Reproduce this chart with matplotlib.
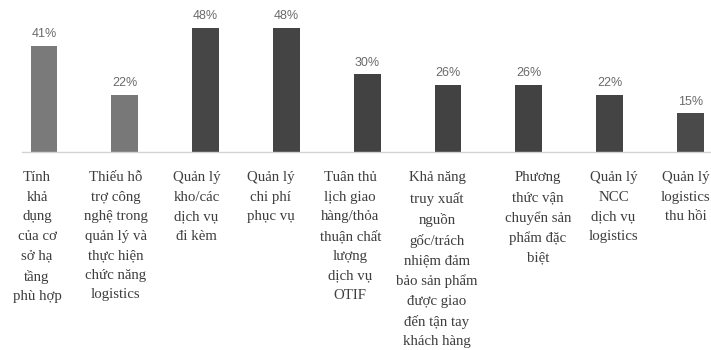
import matplotlib
matplotlib.use('Agg')
import matplotlib.pyplot as plt
import matplotlib.transforms as mtransforms
import numpy as np

categories = [
    'Tính\nkhả\ndụng\ncủa cơ\nsở hạ\ntầng\nphù hợp',
    'Thiếu hỗ\ntrợ công\nnghệ trong\nquản lý và\nthực hiện\nchức năng\nlogistics',
    'Quản lý\nkho/các\ndịch vụ\nđi kèm',
    'Quản lý\nchi phí\nphục vụ',
    'Tuân thủ\nlịch giao\nhàng/thỏa\nthuận chất\nlượng\ndịch vụ\nOTIF',
    'Khả năng\ntruy xuất\nnguồn\ngốc/trách\nnhiệm đảm\nbảo sản phẩm\nđược giao\nđến tận tay\nkhách hàng',
    'Phương\nthức vận\nchuyển sản\nphẩm đặc\nbiệt',
    'Quản lý\nNCC\ndịch vụ\nlogistics',
    'Quản lý\nlogistics\nthu hồi',
]
values = [41, 22, 48, 48, 30, 26, 26, 22, 15]
bar_colors = ['#7a7a7a', '#787878', '#464646', '#444444', '#424242',
              '#424242', '#424242', '#444444', '#4a4a4a']
# horizontal nudge of each category label (pixels), labels don't sit exactly under bars
label_shift = [-7, -9, -9, -16, -17, -11, 9, 4, -5]

fig = plt.figure(figsize=(7.11, 3.5), dpi=100)
# baseline at y=152px of 350
ax = fig.add_axes([0, 198 / 350, 1, 152 / 350])

x = np.arange(len(values))
bars = ax.bar(x, values, width=0.33, color=bar_colors, zorder=2)

for b, v in zip(bars, values):
    ax.annotate(f'{v}%', (b.get_x() + b.get_width() / 2, v),
                xytext=(0, 4), textcoords='offset points',
                ha='center', va='bottom', fontsize=9,
                family='Liberation Sans', color='#6a6a6a')

x0 = -44 / 80.8
ax.set_xlim(x0, x0 + 711 / 80.8)
ax.set_ylim(0, 48 * 152 / 124.5)

for s in ['top', 'right', 'left']:
    ax.spines[s].set_visible(False)
ax.spines['bottom'].set_color('#d4d4d4')
ax.spines['bottom'].set_linewidth(1.0)
ax.spines['bottom'].set_bounds(x0 + 22 / 80.8, x0 + 711 / 80.8)

ax.set_yticks([])
ax.set_xticks(x)
ax.set_xticklabels(categories, family='Liberation Serif', fontsize=10.7,
                   color='#3e3e3e', linespacing=1.65, va='top')
ax.tick_params(axis='x', length=0, pad=14)

for lab, dx in zip(ax.get_xticklabels(), label_shift):
    lab.set_transform(lab.get_transform() +
                      mtransforms.ScaledTranslation(dx / 100, 0, fig.dpi_scale_trans))

fig.savefig('out.png', dpi=100, facecolor='white')
